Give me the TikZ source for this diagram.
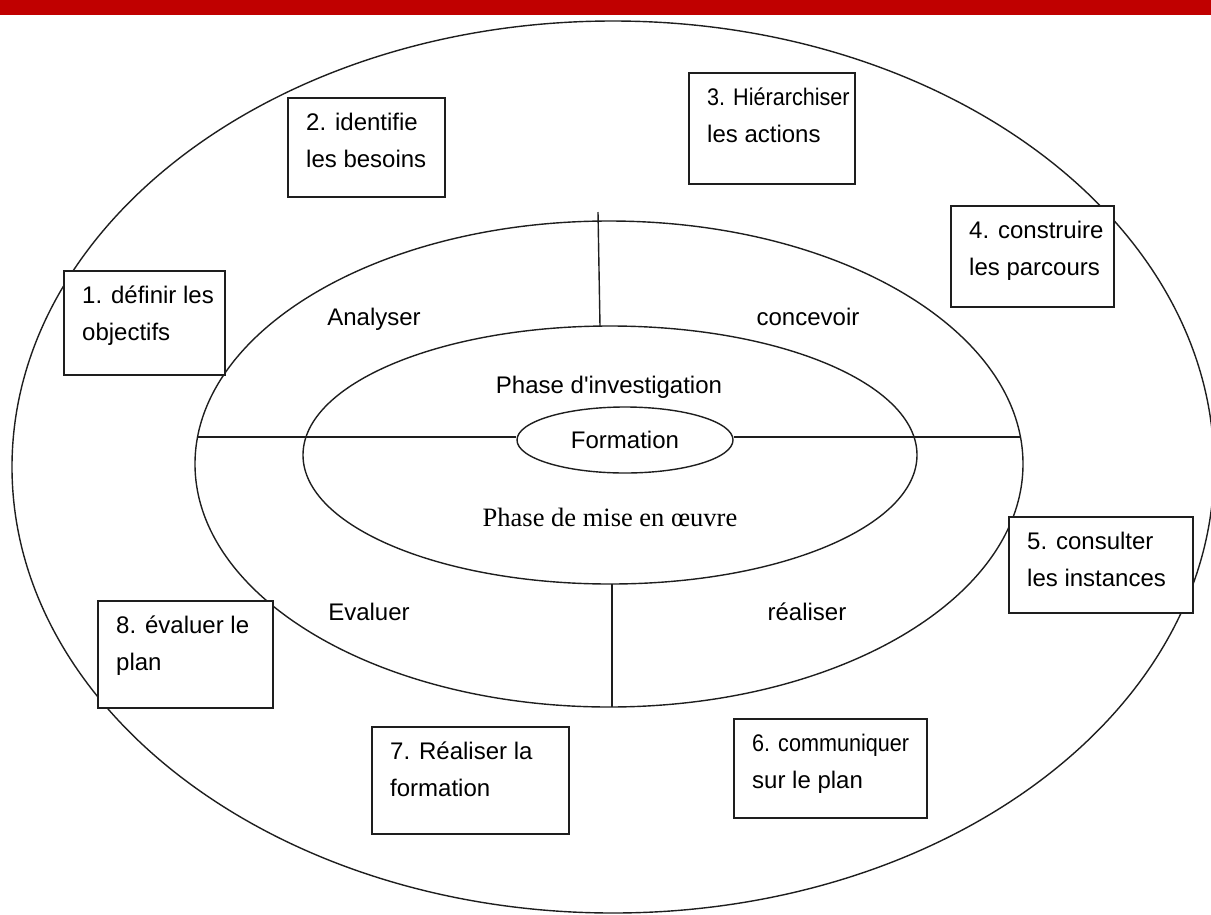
\documentclass[tikz,border=0pt]{standalone}
\usepackage{fontspec}
\setmainfont{Liberation Sans}[Ligatures=TeXOff]
\newfontfamily\serifface{Liberation Serif}
\newfontfamily\narrowface{Liberation Sans}[Ligatures=TeXOff, FakeStretch=0.9]
\usetikzlibrary{shapes.geometric}

\definecolor{barred}{RGB}{192,0,0}
\definecolor{ink}{RGB}{30,30,30}

\begin{document}
\begin{tikzpicture}[x=1pt,y=-1pt,
  ring/.style={ellipse, draw=ink, line width=1.4pt, inner sep=0pt},
  divider/.style={draw=ink, line width=1.4pt},
  stepbox/.style={rectangle, draw=ink, line width=1.6pt, fill=white,
                  anchor=north west, inner sep=0pt},
  % base of a two-line node is the baseline of its second line
  steptext/.style={anchor=base west, align=left, inner sep=0pt,
                   font=\fontsize{24}{37}\selectfont},
  lbl/.style={anchor=base, inner sep=0pt, font=\fontsize{24}{28}\selectfont},
]
\useasboundingbox (0,0) rectangle (1211,914);

% red band along the top
\fill[barred] (0,0) rectangle (1211,15);

% concentric rings
\node[ring, minimum width=1202pt, minimum height=892pt] (outer) at (613,467) {};
\node[ring, minimum width=828pt, minimum height=486pt] (mid) at (609,464) {};
\node[ring, minimum width=614pt, minimum height=258pt] (inner) at (610,455) {};
\node[ring, minimum width=216pt, minimum height=66pt,
      font=\fontsize{24}{28}\selectfont] (form) at (625,440) {Formation};

% quadrant dividers
\coordinate (midL) at (197,437);
\coordinate (midR) at (1021,437);
\coordinate (topT) at (598,212);
\coordinate (topB) at (600,326);
\coordinate (botT) at (612,584);
\coordinate (botB) at (612,707);
\draw[divider] (midL) -- (form.west |- midL);
\draw[divider] (form.east |- midR) -- (midR);
\draw[divider] (topT) -- (topB);
\draw[divider] (botT) -- (botB);

% ring labels
\node[lbl] (analyser) at (374,325) {Analyser};
\node[lbl] (concevoir) at (808,325) {concevoir};
\node[lbl] (evaluer) at (369,620) {Evaluer};
\node[lbl] (realiser) at (807,620) {réaliser};
\node[lbl] (investig) at (609,393) {Phase d'investigation};
\node[lbl, font=\serifface\fontsize{26.5}{30}\selectfont] (miseoeuvre) at (610,526)
  {Phase de mise en œuvre};

% the eight steps
\node[stepbox, minimum width=161pt, minimum height=104pt] (s1) at (63,270) {};
\node[steptext] (t1) at ([shift={(19,70)}]s1.north west) {1. définir les\\objectifs};

\node[stepbox, minimum width=157pt, minimum height=99pt] (s2) at (287,97) {};
\node[steptext] (t2) at ([shift={(19,70)}]s2.north west) {2. identifie\\les besoins};

\node[stepbox, minimum width=166pt, minimum height=111pt] (s3) at (688,72) {};
\node[steptext] (t3) at ([shift={(19,70)}]s3.north west)
  {{\narrowface 3. Hiérarchiser}\\les actions};

\node[stepbox, minimum width=163pt, minimum height=101pt] (s4) at (950,205) {};
\node[steptext] (t4) at ([shift={(19,70)}]s4.north west) {4. construire\\les parcours};

\node[stepbox, minimum width=184pt, minimum height=96pt] (s5) at (1008,516) {};
\node[steptext] (t5) at ([shift={(19,70)}]s5.north west) {5. consulter\\les instances};

\node[stepbox, minimum width=193pt, minimum height=99pt] (s6) at (733,718) {};
\node[steptext] (t6) at ([shift={(19,70)}]s6.north west)
  {{\narrowface 6. communiquer}\\sur le plan};

\node[stepbox, minimum width=197pt, minimum height=107pt] (s7) at (371,726) {};
\node[steptext] (t7) at ([shift={(19,70)}]s7.north west) {7. Réaliser la\\formation};

\node[stepbox, minimum width=175pt, minimum height=107pt] (s8) at (97,600) {};
\node[steptext] (t8) at ([shift={(19,70)}]s8.north west) {8. évaluer le\\plan};
\end{tikzpicture}
\end{document}
